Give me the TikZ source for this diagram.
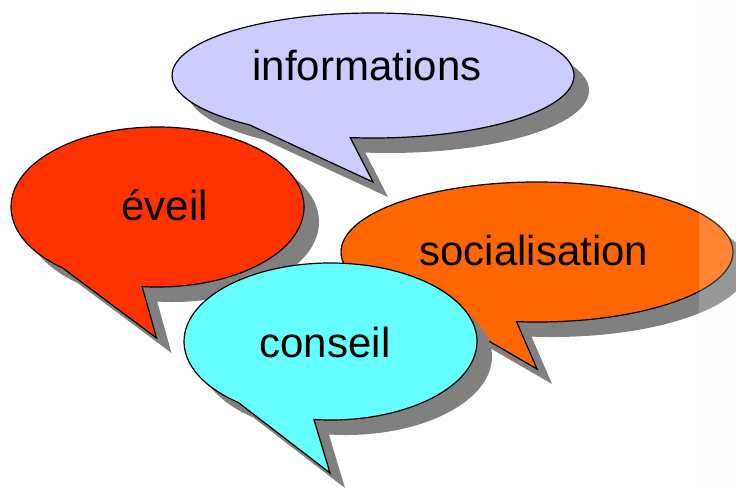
\documentclass[tikz,border=0pt]{standalone}
\usepackage{fontspec}
\setmainfont{Liberation Sans}
\usepackage{tikz}

\definecolor{lavande}{HTML}{CCCCFF}
\definecolor{rougeeveil}{HTML}{FF3300}
\definecolor{orangesocial}{HTML}{FF6600}
\definecolor{cyanconseil}{HTML}{66FFFF}
\definecolor{grisombre}{HTML}{808080}

\tikzset{
 bulle/.style={draw=black, line width=1.2pt, line join=miter},
 ombre/.style={fill=grisombre, draw=none},
 texte/.style={font=\fontsize{42}{50}\selectfont, anchor=base, inner sep=0pt},
}

% #1 centre, #2 #3 rayons, #4 angle depart, #5 angle encoche, #6 pointe, #7 couleur
\newcommand{\bulle}[7]{
 \fill[ombre, shift={(15,-15)}] ([shift={(#4:#2 and #3)}]#1) -- (#6) -- ([shift={(#5:#2 and #3)}]#1)
   arc[start angle=#5, end angle=#4+360, x radius=#2, y radius=#3] -- cycle;
 \draw[bulle, fill=#7] ([shift={(#4:#2 and #3)}]#1) -- (#6) -- ([shift={(#5:#2 and #3)}]#1)
   arc[start angle=#5, end angle=#4+360, x radius=#2, y radius=#3] -- cycle;
}

\begin{document}
\begin{tikzpicture}[x=1pt, y=1pt]

 \useasboundingbox (0,0) rectangle (736,491);
 \clip (0,0) rectangle (736,491);

 \bulle{373,415.5}{201}{62.5}{-128}{-96.5}{373,309}{lavande}
 \node[texte] (informations) at (367,410) {informations};

 \bulle{537,239}{196}{70}{-119.6}{-96}{537,122}{orangesocial}
 \node[texte] (socialisation) at (534,226) {socialisation};

 \bulle{157.5,284}{146.5}{80}{-130.5}{-96}{156.5,153}{rougeeveil}
 \node[texte] (eveil) at (164.5,270.3) {éveil};

 \bulle{330.5,149.5}{146.5}{78.5}{-129}{-96.5}{330,18}{cyanconseil}
 \node[texte] (conseil) at (325,134) {conseil};

 \fill[white!98!black, fill opacity=0.2] (699,0) rectangle (736,491);

\end{tikzpicture}
\end{document}
